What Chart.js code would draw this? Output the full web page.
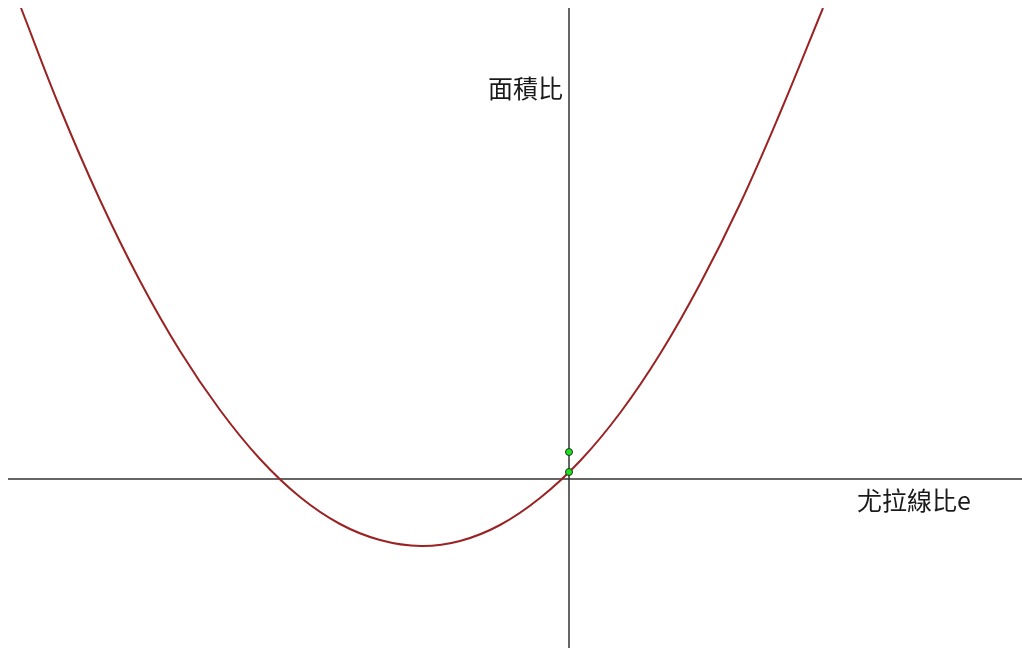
<!DOCTYPE html>
<html>
<head>
<meta charset="utf-8">
<script src="https://cdn.jsdelivr.net/npm/chart.js@4/dist/chart.umd.min.js"></script>
<style>
  html, body { margin: 0; padding: 0; background: #fff; overflow: hidden; }
  canvas { display: block; }
</style>
</head>
<body>
<canvas id="plot" width="1022" height="648"></canvas>
<script>
// curve samples (x = 尤拉線比e, y = 面積比)
const curveX = [-5.48, -5.09, -4.69, -4.29, -3.89, -3.49, -3.09, -2.69, -2.29, -1.89, -1.48, -1.09, -0.69, -0.29, 0.11, 0.51, 0.91, 1.31, 1.71, 2.11, 2.54];
const curveY = [4.71, 3.71, 2.79, 1.98, 1.28, 0.69, 0.20, -0.18, -0.45, -0.61, -0.67, -0.62, -0.46, -0.19, 0.18, 0.66, 1.25, 1.95, 2.75, 3.66, 4.71];
const pointX = [0, 0];
const pointY = [0.27, 0.07];
const xLabel = "尤拉線比e";
const yLabel = "面積比";

const axesPlugin = {
  id: "axes",
  beforeDatasetsDraw(chart) {
    const { ctx, chartArea, scales } = chart;
    const x0 = scales.x.getPixelForValue(0);
    const y0 = scales.y.getPixelForValue(0);
    ctx.save();
    ctx.strokeStyle = "#333";
    ctx.lineWidth = 1.5;
    ctx.beginPath();
    ctx.moveTo(chartArea.left, y0);
    ctx.lineTo(chartArea.right, y0);
    ctx.moveTo(x0, chartArea.top);
    ctx.lineTo(x0, chartArea.bottom);
    ctx.stroke();
    ctx.restore();
  },
  afterDatasetsDraw(chart) {
    const { ctx, scales } = chart;
    const x0 = scales.x.getPixelForValue(0);
    const y0 = scales.y.getPixelForValue(0);
    ctx.save();
    ctx.fillStyle = "#1a1a1a";
    ctx.font = '25px "Noto Sans CJK TC", "Noto Sans CJK SC", sans-serif';
    ctx.textBaseline = "middle";
    ctx.textAlign = "right";
    ctx.fillText(yLabel, x0 - 6, y0 - 391);
    ctx.textAlign = "left";
    ctx.fillText(xLabel, x0 + 288, y0 + 21);
    ctx.restore();
  },
};

new Chart(document.getElementById("plot"), {
  type: "scatter",
  data: {
    datasets: [
      {
        data: curveX.map((x, i) => ({ x: x, y: curveY[i] })),
        showLine: true,
        borderColor: "#9b2222",
        borderWidth: 2,
        pointRadius: 0,
        tension: 0.4,
        clip: 0,
        order: 2,
      },
      {
        data: pointX.map((x, i) => ({ x: x, y: pointY[i] })),
        showLine: false,
        pointRadius: 3.5,
        pointBackgroundColor: "#22dd22",
        pointBorderColor: "#1a3a1a",
        pointBorderWidth: 1,
        order: 1,
      },
    ],
  },
  options: {
    responsive: false,
    animation: false,
    layout: { autoPadding: false, padding: { left: 8, top: 8, right: 0, bottom: 0 } },
    plugins: { legend: { display: false }, tooltip: { enabled: false } },
    scales: {
      x: { type: "linear", min: -5.61, max: 4.53, display: false },
      y: { type: "linear", min: -1.69, max: 4.71, display: false },
    },
  },
  plugins: [axesPlugin],
});
</script>
</body>
</html>
